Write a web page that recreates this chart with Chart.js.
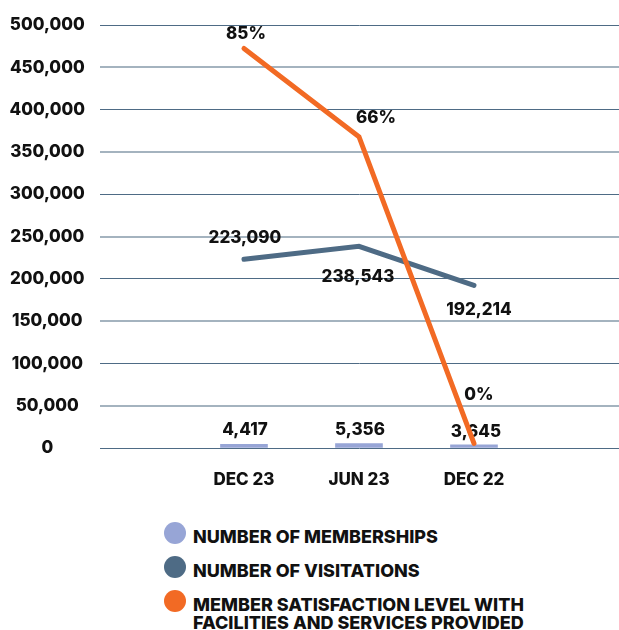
<!DOCTYPE html>
<html>
<head>
<meta charset="utf-8">
<script src="https://cdn.jsdelivr.net/npm/chart.js@4"></script>
<style>
  body { margin: 0; background: #fff; }
  #wrap { position: relative; width: 619px; height: 500px; }
  #legend { position: absolute; left: 164px; top: 522px; font-family: Inter, sans-serif; font-weight: 800; font-size: 18px; color: #111; }
  .item { display: flex; align-items: flex-start; margin-bottom: 10px; }
  .dot { width: 22px; height: 22px; border-radius: 50%; flex: none; margin-right: 7px; }
  .txt { line-height: 18px; padding-top: 6px; }
</style>
</head>
<body>
<div id="wrap"><canvas id="chart"></canvas></div>
<div id="legend"></div>
<script>
const categories = ['DEC 23', 'JUN 23', 'DEC 22'];
const memberships = [4417, 5356, 3645];
const visitations = [223090, 238543, 192214];
const satisfaction = [85, 66, 0];
const yTicks = [0, 50000, 100000, 150000, 200000, 250000, 300000, 350000, 400000, 450000, 500000];

const seriesNames = ['NUMBER OF MEMBERSHIPS', 'NUMBER OF VISITATIONS', 'MEMBER SATISFACTION LEVEL WITH FACILITIES AND SERVICES PROVIDED'];
const colors = ['#97a5d6', '#4e6b85', '#f26a24'];

// label offsets (px) from each point, per dataset
const labelOffsets = [
    [[1, -14], [1, -14], [2, -13]],
    [[1, -21], [-1, 31], [5, 24]],
    [[2, -15], [17, -19], [5, -48]]
];

const fmt = v => v.toLocaleString('en-US');

const labelPlugin = {
    id: 'valueLabels',
    beforeDatasetsDraw(chart) {
        const ctx = chart.ctx;
        ctx.save();
        ctx.font = '800 17px Inter';
        ctx.fillStyle = '#111';
        ctx.textAlign = 'center';
        ctx.textBaseline = 'middle';
        chart.data.datasets.forEach((ds, di) => {
            const meta = chart.getDatasetMeta(di);
            meta.data.forEach((el, i) => {
                const v = ds.data[i].y;
                const txt = di === 2 ? v + '%' : fmt(v);
                const off = labelOffsets[di][i];
                ctx.fillText(txt, el.x + off[0], el.y + off[1]);
            });
        });
        ctx.restore();
    }
};

const toPoints = arr => arr.map((v, i) => ({x: i, y: v}));

new Chart(document.getElementById('chart'), {
    type: 'bar',
    data: {
        datasets: [{
            type: 'bar',
            label: seriesNames[0],
            data: toPoints(memberships),
            backgroundColor: colors[0],
            barThickness: 47,
            order: 3
        }, {
            type: 'line',
            label: seriesNames[1],
            data: toPoints(visitations),
            borderColor: colors[1],
            borderWidth: 5,
            borderCapStyle: 'round',
            pointRadius: 0,
            order: 2
        }, {
            type: 'line',
            label: seriesNames[2],
            data: toPoints(satisfaction),
            yAxisID: 'y1',
            borderColor: colors[2],
            borderWidth: 5,
            borderCapStyle: 'round',
            pointRadius: 0,
            order: 1
        }]
    },
    options: {
        responsive: true,
        maintainAspectRatio: false,
        animation: false,
        layout: { padding: { left: 0, top: 23, right: 0, bottom: 0 } },
        scales: {
            x: {
                type: 'linear',
                offset: false,
                min: -1.252,
                max: 3.261,
                grid: { display: false, drawTicks: false },
                border: { display: false },
                afterBuildTicks: axis => { axis.ticks = categories.map((c, i) => ({value: i})); },
                afterFit: axis => { axis.height = 52; },
                ticks: {
                    padding: 22,
                    maxRotation: 0,
                    color: '#111',
                    font: { family: 'Inter', size: 17, weight: '800' },
                    callback: v => categories[v]
                }
            },
            y: {
                min: 0,
                max: 500000,
                afterBuildTicks: axis => { axis.ticks = yTicks.map(v => ({value: v})); },
                afterFit: axis => { axis.width = 100; },
                border: { display: false },
                grid: {
                    drawTicks: false,
                    color: c => c.index % 2 === 0 ? '#4e6b85' : '#a4b3bf',
                    lineWidth: c => c.index % 2 === 0 ? 1 : 2
                },
                ticks: {
                    crossAlign: 'center',
                    padding: 15,
                    color: '#111',
                    font: { family: 'Inter', size: 17, weight: '800' },
                    callback: v => fmt(v)
                }
            },
            y1: {
                display: false,
                min: -1,
                max: 90
            }
        },
        plugins: {
            legend: { display: false },
            tooltip: { enabled: false }
        }
    },
    plugins: [labelPlugin]
});

const legend = document.getElementById('legend');
seriesNames.forEach((name, i) => {
    const item = document.createElement('div');
    item.className = 'item';
    const dot = document.createElement('span');
    dot.className = 'dot';
    dot.style.background = colors[i];
    const txt = document.createElement('span');
    txt.className = 'txt';
    txt.textContent = name;
    if (i === 2) txt.style.width = '360px';
    item.appendChild(dot);
    item.appendChild(txt);
    legend.appendChild(item);
});
</script>
</body>
</html>
